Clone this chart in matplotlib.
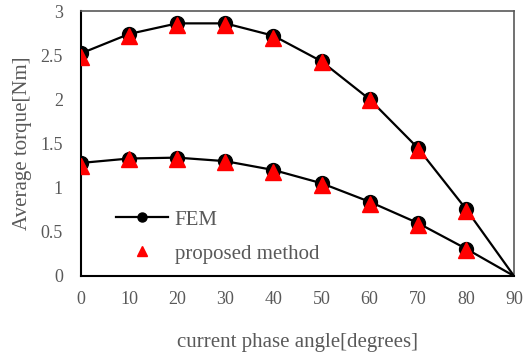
import matplotlib
matplotlib.use("Agg")
import matplotlib.pyplot as plt

angles = [0, 10, 20, 30, 40, 50, 60, 70, 80, 90]
fem_high = [2.52, 2.74, 2.86, 2.86, 2.72, 2.43, 2.00, 1.45, 0.76, 0.0]
fem_low = [1.28, 1.33, 1.34, 1.30, 1.20, 1.05, 0.84, 0.60, 0.31, 0.0]
prop_angles = [0, 10, 20, 30, 40, 50, 60, 70, 80]
prop_high = [2.48, 2.72, 2.84, 2.84, 2.69, 2.42, 1.99, 1.43, 0.74]
prop_low = [1.25, 1.32, 1.33, 1.29, 1.18, 1.03, 0.82, 0.58, 0.29]
xticks = [0, 10, 20, 30, 40, 50, 60, 70, 80, 90]
yticks = [0, 0.5, 1, 1.5, 2, 2.5, 3]
ytick_labels = ["0", "0.5", "1", "1.5", "2", "2.5", "3"]

grey = "#595959"
plt.rcParams["font.family"] = ["Liberation Serif", "DejaVu Serif"]

fig = plt.figure(figsize=(5.31, 3.58), dpi=100)
ax = fig.add_axes([81/531, 1 - 276/358, (514-81)/531, (276-11)/358])

nmark = len(angles) - 1
ax.plot(angles, fem_high, color="black", lw=1.6, marker="o", ms=10, mfc="black", mec="black",
        markevery=list(range(nmark)), label="FEM", zorder=2)
ax.plot(angles, fem_low, color="black", lw=1.6, marker="o", ms=10, mfc="black", mec="black",
        markevery=list(range(nmark)), zorder=2)
ax.plot(prop_angles, prop_high, ls="none", marker="^", ms=12, color="red", label="proposed method", zorder=3)
ax.plot(prop_angles, prop_low, ls="none", marker="^", ms=12, color="red", zorder=3)

ax.set_xlim(0, 90)
ax.set_ylim(0, 3)
ax.set_xticks(xticks)
ax.set_yticks(yticks)
ax.set_yticklabels(ytick_labels)
ax.tick_params(length=0, labelsize=13, colors=grey)
ax.tick_params(axis="y", pad=13)
ax.tick_params(axis="x", pad=11)
for s in ["left", "bottom"]:
    ax.spines[s].set_color("black")
    ax.spines[s].set_linewidth(1.5)
for s in ["top", "right"]:
    ax.spines[s].set_color(grey)
    ax.spines[s].set_linewidth(1.2)
for sp in ax.spines.values():
    sp.set_zorder(1)

ax.set_xlabel("current phase angle[degrees]", fontsize=15, color=grey)
ax.set_ylabel("Average torque[Nm]", fontsize=15, color=grey)
ax.xaxis.label.set_va("center")
ax.yaxis.label.set_va("center")
ax.xaxis.set_label_coords(0.5, (276 - 343) / 265)
ax.yaxis.set_label_coords((23 - 81) / 433, 0.5)

leg = ax.legend(loc="lower left", bbox_to_anchor=(0.062, 0.015), frameon=False, fontsize=15,
                labelcolor=grey, handlelength=2.5, handletextpad=0.3, borderaxespad=0,
                labelspacing=0.7, markerscale=0.65)

fig.savefig("out.png", dpi=100)
